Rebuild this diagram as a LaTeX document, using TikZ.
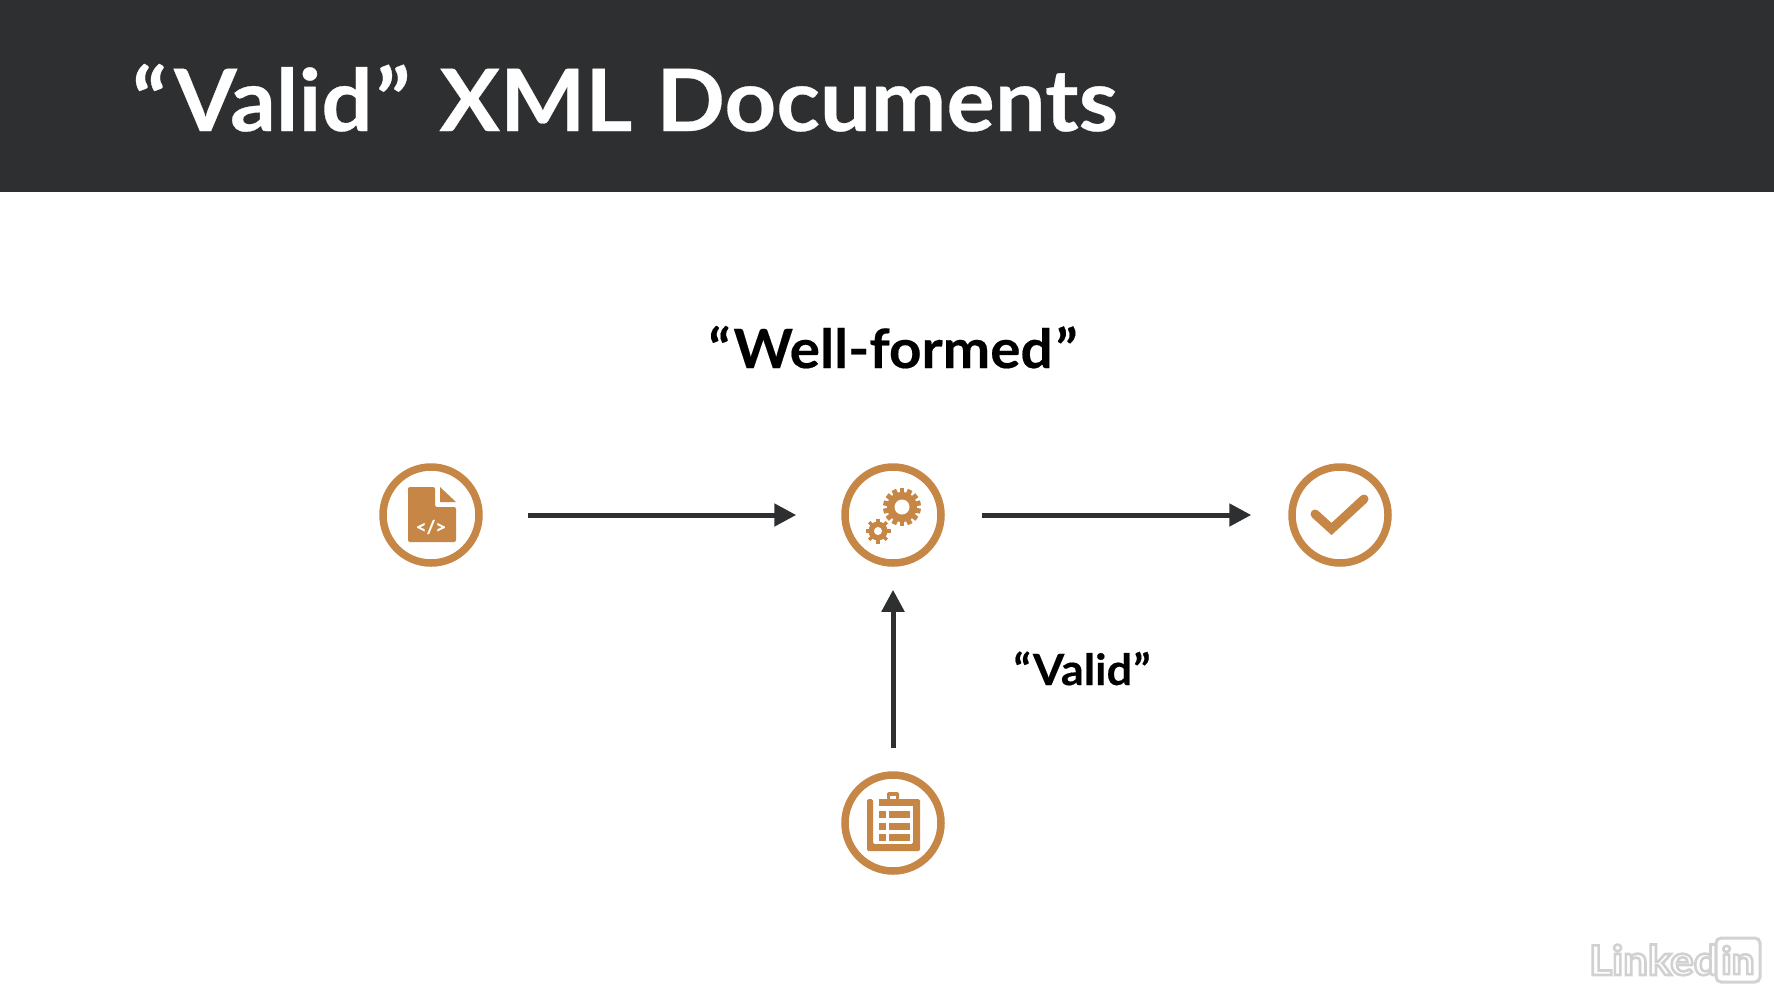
\documentclass[tikz,border=0pt]{standalone}
\usepackage{xcolor}
\usepackage{fontspec}
\usetikzlibrary{arrows.meta}
\setmainfont{Lato}[FakeStretch=1.05, BoldFeatures={FakeBold=0.35}]
\newfontfamily\markfont{Lato}[FakeStretch=1.07]
\definecolor{barcol}{HTML}{2E2F31}
\definecolor{iconcol}{HTML}{C68645}
\definecolor{markcol}{HTML}{D2D2D2}
\tikzset{
    badge/.style={circle, draw=iconcol, line width=7.5pt, minimum size=96pt, inner sep=0pt},
    flow/.style={draw=barcol, line width=5pt, -{Triangle[length=22pt,width=22pt]}},
    icon/.style={fill=iconcol, draw=none},
    hole/.style={fill=white, draw=none},
}
% white letters with a grey edge
\newcommand{\ghosttext}[1]{\special{pdf:code q 2 Tr 2.6 w 0.82 G 1 g}#1\special{pdf:code Q}}
% one gear: radius of body, radius of teeth, radius of hole, number of teeth
\newcommand{\gearshape}[4]{
    \pgfmathsetmacro{\gearstep}{360/#4}
    \foreach \a in {1,...,#4} {
        \fill[icon, rotate=\a*\gearstep] (-1.3pt*#2/10,0) rectangle (1.3pt*#2/10,#2);
    }
    \fill[icon] (0,0) circle (#1);
    \fill[hole] (0,0) circle (#3);
}
\begin{document}
\begin{tikzpicture}[x=1pt, y=-1pt]
    \useasboundingbox (0,0) rectangle (1774,986);
    \fill[barcol] (0,0) rectangle (1774,192);

    \node[anchor=base west, inner sep=0pt, text=white, font=\fontsize{86}{90}\selectfont\bfseries] (title) at (132,131) {“\kern7pt Valid\kern3pt”\kern7pt\ XML\kern2pt\ Documents};
    \node[anchor=base, inner sep=0pt, text=black, font=\fontsize{54}{60}\selectfont\bfseries] (wellformed) at (893,368) {“\kern3pt Well-formed\kern3pt”};
    \node[anchor=base, inner sep=0pt, text=black, font=\fontsize{43}{46}\selectfont\bfseries] (validlabel) at (1082,685) {“\kern2pt Valid\kern1pt”};

    \node[badge] (doc) at (431,515) {};
    \node[badge] (gears) at (893,515) {};
    \node[badge] (check) at (1340,515) {};
    \node[badge] (schema) at (893,823) {};

    \draw[flow, shorten <=45pt, shorten >=45pt] (doc) -- (gears);
    \draw[flow, shorten <=37pt, shorten >=37pt] (gears) -- (check);
    \draw[flow, shorten <=23pt, shorten >=23pt] (schema) -- (gears);

    % file
    \begin{scope}[shift={(doc.center)}]
        \fill[icon, rounded corners=2pt] (-23,-28) -- (4,-28) -- (4,-8) -- (25,-8) -- (25,27) -- (-23,27) -- cycle;
        \fill[icon] (9,-28) -- (25,-13) -- (9,-13) -- cycle;
        \node[text=white, inner sep=0pt, font=\fontsize{18}{20}\selectfont\bfseries] (doccode) at (0,12) {</>};
    \end{scope}

    % gears
    \begin{scope}[shift={(902,507)}]
        \gearshape{15pt}{19pt}{7.5pt}{14}
    \end{scope}
    \begin{scope}[shift={(878,531)}]
        \gearshape{9.5pt}{12.5pt}{4pt}{8}
    \end{scope}

    % check mark
    \draw[iconcol, line width=9pt, line cap=round, miter limit=10] ([shift={(-25,-1)}]check.center) -- ([shift={(-8.5,14)}]check.center) -- ([shift={(24,-16)}]check.center);

    % clipboard
    \begin{scope}[shift={(schema.center)}]
        \fill[icon, rounded corners=1.5pt] (-26,-24) -- (-20,-24) -- (-20,21) -- (20,21) -- (20,-24) -- (27,-24) -- (27,28) -- (-26,28) -- cycle;
        \fill[icon] (-14,-24) rectangle (22,-17);
        \fill[icon, rounded corners=2pt] (-6,-31) rectangle (6,-23);
        \fill[hole] (-3,-27.5) rectangle (3,-24);
        \foreach \r in {-12,0,11} {
            \fill[icon] (-14,\r) rectangle (-7,\r+7);
            \fill[icon] (-4,\r) rectangle (17,\r+7);
        }
    \end{scope}

    % watermark
    \node[anchor=base west, inner sep=0pt, font=\fontsize{41}{48}\markfont\bfseries] (brand) at (1589,975) {\ghosttext{Linked}};
    \node[anchor=center, rounded corners=5pt, draw=markcol, fill=white, line width=3pt, minimum width=44pt, minimum height=44pt, inner sep=0pt, font=\fontsize{38}{40}\markfont\bfseries] (brandbox) at (1738,960) {\ghosttext{in}};
\end{tikzpicture}
\end{document}
